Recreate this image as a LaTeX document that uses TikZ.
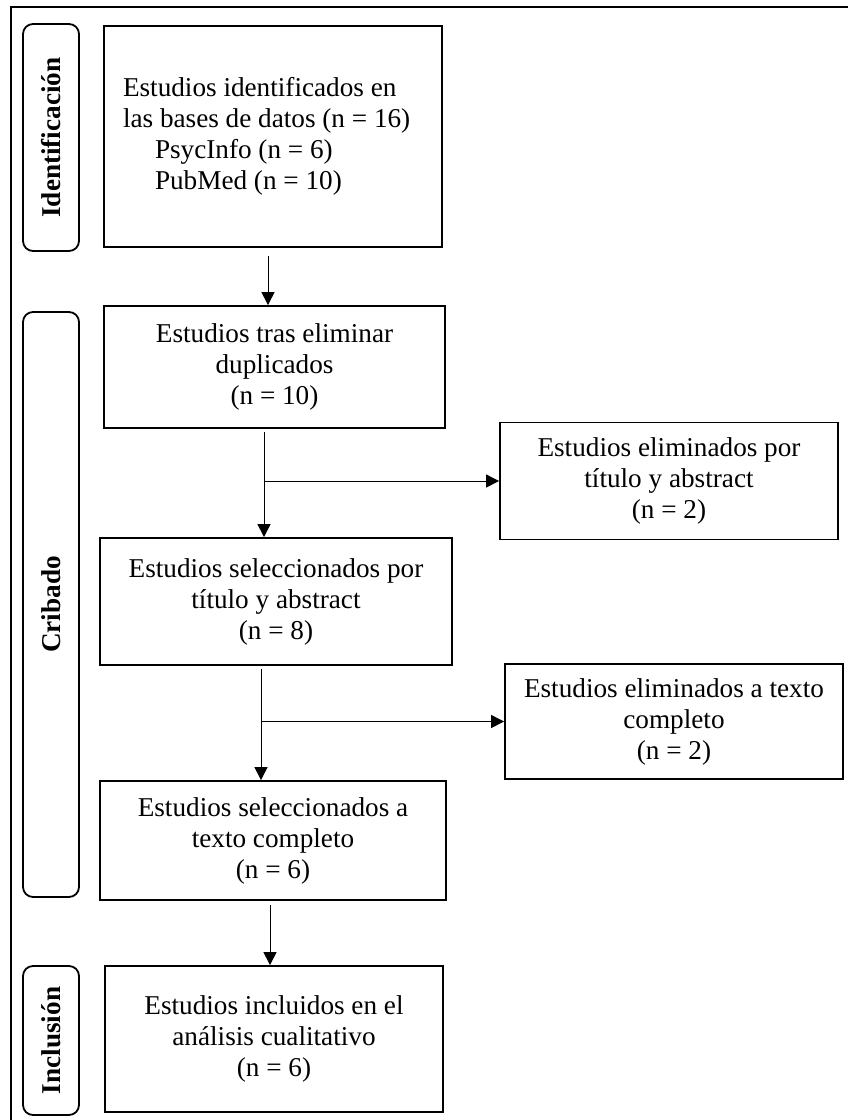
\documentclass[tikz,border=0pt]{standalone}
\usepackage{fontspec}
\setmainfont{Liberation Serif}
\usetikzlibrary{arrows.meta,calc}
\begin{document}
\begin{tikzpicture}[x=1pt,y=-1pt,
  box/.style={draw, line width=1.8pt, inner sep=0pt, align=center,
    font=\fontsize{27.2}{31}\selectfont},
  phase/.style={draw, line width=1.8pt, rounded corners=10pt, inner sep=0pt,
    rotate=90, minimum height=56pt, font=\fontsize{27.2}{31}\selectfont\bfseries},
  arr/.style={line width=1pt, -{Triangle[length=13pt,width=13pt]}}]
\useasboundingbox (0,0) rectangle (847,1120);
% outer frame
\draw[line width=1.8pt] (850,7) -- (11,7) -- (11,1123);
% phase labels
\node[phase, minimum width=227pt] (p1) at (51,137.5) {Identificación};
\node[phase, minimum width=585pt] (p2) at (51,604.5) {Cribado};
\node[phase, minimum width=149pt] (p3) at (51,1040.5) {Inclusión};
% boxes
\node[box, minimum width=338pt, minimum height=221pt, text width=300pt, align=flush left] (b1) at (273,136.5)
  {Estudios identificados en\\las bases de datos (n = 16)\\\hspace*{32pt}PsycInfo (n = 6)\\\hspace*{32pt}PubMed (n = 10)};
\node[box, minimum width=341pt, minimum height=122pt] (b2) at (274.5,367)
  {Estudios tras eliminar\\duplicados\\(n = 10)};
\node[box, minimum width=338pt, minimum height=117pt] (b3) at (669,481)
  {Estudios eliminados por\\título y abstract\\(n = 2)};
\node[box, minimum width=352pt, minimum height=127pt] (b4) at (276,601.5)
  {Estudios seleccionados por\\título y abstract\\(n = 8)};
\node[box, minimum width=338pt, minimum height=115pt] (b5) at (674,721.5)
  {Estudios eliminados a texto\\completo\\(n = 2)};
\node[box, minimum width=346pt, minimum height=119pt] (b6) at (273,840.5)
  {Estudios seleccionados a\\texto completo\\(n = 6)};
\node[box, minimum width=338pt, minimum height=146pt] (b7) at (274,1039)
  {Estudios incluidos en el\\análisis cualitativo\\(n = 6)};
% connectors
\coordinate (s1) at (268,256);
\draw[arr] (s1) -- (s1 |- b2.north);
\coordinate (s2) at (264,432);
\draw[arr] (s2) -- (s2 |- b4.north);
\draw[arr] (s2 |- b3.west) -- (b3.west);
\coordinate (s3) at (261,669);
\draw[arr] (s3) -- (s3 |- b6.north);
\draw[arr] (s3 |- b5.west) -- (b5.west);
\coordinate (s4) at (270,905);
\draw[arr] (s4) -- (s4 |- b7.north);
\end{tikzpicture}
\end{document}
